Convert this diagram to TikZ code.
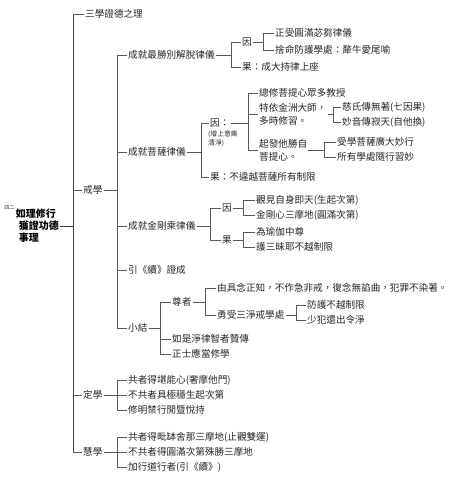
\documentclass[tikz,border=0pt]{standalone}
\usepackage{fontspec}
\newfontfamily\cjk{Noto Sans CJK TC}
\usetikzlibrary{positioning}

\begin{document}
\begin{tikzpicture}[
    x=1pt, y=-1pt,
    item/.style  = {anchor=west, inner sep=1pt, text=black!85,
                    font=\cjk\fontsize{9.6}{13}\selectfont},
    note/.style  = {anchor=west, inner sep=1pt, text=black!85, align=left,
                    font=\cjk\fontsize{6.8}{9}\selectfont},
    rootbox/.style = {anchor=east, inner sep=1pt, align=left,
                    font=\cjk\bfseries\fontsize{10}{12}\selectfont},
    br/.style    = {draw=black!65, line width=0.7pt},
    trunk/.style = {draw=black!75, line width=1pt},
]
\useasboundingbox (0,0) rectangle (459,480);

% --- root ---
\node[rootbox] (root) at (60,226) {如理修行\\\hspace{3pt}獲證功德\\\hspace{3pt}事理};
\node[note, anchor=south east, font=\cjk\fontsize{5}{6}\selectfont]
    (num) at ([xshift=1pt,yshift=-3pt]root.north west) {四二};

% --- three trainings ---
\coordinate (xa) at (73,0);
\node[item] (san)  at (84,14)  {三學證德之理};
\node[item] (jie)  at (82,190) {戒學};
\node[item] (ding) at (82,395) {定學};
\node[item] (hui)  at (82,452) {慧學};

% --- 戒學 ---
\coordinate (xb) at (117,0);
\node[item] (jie1) at (127,55)  {成就最勝別解脫律儀};
\node[item] (jie2) at (127,152) {成就菩薩律儀};
\node[item] (jie3) at (127,226) {成就金剛乘律儀};
\node[item] (jie4) at (127,270) {引《續》證成};
\node[item] (jie5) at (127,328) {小結};

% 別解脫律儀
\coordinate (xc) at (231,0);
\node[item] (yin1) at (241,42) {因};
\node[item] (guo1) at (241,67) {果：成大持律上座};
\coordinate (xd) at (263,0);
\node[item] (a1) at (274,33) {正受圓滿苾芻律儀};
\node[item] (a2) at (274,50) {捨命防護學處：犛牛愛尾喻};

% 菩薩律儀
\coordinate (xe) at (201,0);
\node[item] (yin2) at (209,123) {因：};
\node[note] (yin2n) at (207,139) {(增上意樂\\清淨)};
\node[item] (guo2) at (209,177) {果：不違越菩薩所有制限};
\coordinate (xf) at (248,0);
\node[item] (b1) at (258,93) {總修菩提心眾多教授};
\node[item, align=left] (b2) at (258,114) {特依金洲大師，\\多時修習。};
\node[item, align=left] (b3) at (258,150) {起發他勝自\\菩提心。};
\coordinate (xg) at (333,0);
\node[item] (c1) at (341,107) {慈氏傳無著(七因果)};
\node[item] (c2) at (341,122) {妙音傳寂天(自他換)};
\coordinate (xh) at (324,0);
\node[item] (d1) at (336,142) {受學菩薩廣大妙行};
\node[item] (d2) at (336,157) {所有學處隨行習妙};

% 金剛乘律儀
\coordinate (xi) at (210,0);
\node[item] (yin3) at (221,208) {因};
\node[item] (guo3) at (221,240) {果};
\coordinate (xj) at (243,0);
\node[item] (e1) at (255,200) {觀見自身即天(生起次第)};
\node[item] (e2) at (255,215) {金剛心三摩地(圓滿次第)};
\node[item] (f1) at (255,232) {為瑜伽中尊};
\node[item] (f2) at (255,247) {護三昧耶不越制限};

% 小結
\coordinate (xk) at (160,0);
\node[item] (zun) at (171,302) {尊者};
\node[item] (g2)  at (171,339) {如是淨律智者贊傳};
\node[item] (g3)  at (171,354) {正士應當修學};
\coordinate (xl) at (205,0);
\node[item] (h1) at (216,288) {由具念正知，不作急非戒，復念無諂曲，犯罪不染著。};
\node[item] (h2) at (216,315) {勇受三淨戒學處};
\coordinate (xm) at (296,0);
\node[item] (i1) at (306,305) {防護不越制限};
\node[item] (i2) at (306,320) {少犯還出令淨};

% --- 定學 ---
\node[item] (j1) at (127,380) {共者得堪能心(奢摩他門)};
\node[item] (j2) at (127,395) {不共者具極穩生起次第};
\node[item] (j3) at (127,410) {修明禁行閒暨悅持};

% --- 慧學 ---
\node[item] (m1) at (127,437) {共者得毗缽舍那三摩地(止觀雙運)};
\node[item] (m2) at (127,452) {不共者得圓滿次第殊勝三摩地};
\node[item] (m3) at (127,467) {加行道行者(引《續》)};

% --- brackets ---
\draw[trunk] (xa |- san.west) -- (xa |- hui.west);
\draw[trunk] (root.east) -- (root.east -| xa);
\foreach \n in {san,jie,ding,hui} \draw[br] (xa |- \n.west) -- (\n.west);

\draw[br] (jie.east) -- (jie.east -| xb);
\draw[br] (xb |- jie1.west) -- (xb |- jie5.west);
\foreach \n in {jie1,jie2,jie3,jie4,jie5} \draw[br] (xb |- \n.west) -- (\n.west);

\draw[br] (jie1.east) -- (jie1.east -| xc);
\draw[br] (xc |- yin1.west) -- (xc |- guo1.west);
\foreach \n in {yin1,guo1} \draw[br] (xc |- \n.west) -- (\n.west);
\draw[br] (yin1.east) -- (yin1.east -| xd);
\draw[br] (xd |- a1.west) -- (xd |- a2.west);
\foreach \n in {a1,a2} \draw[br] (xd |- \n.west) -- (\n.west);

\draw[br] (jie2.east) -- (jie2.east -| xe);
\draw[br] (xe |- yin2.west) -- (xe |- guo2.west);
\foreach \n in {yin2,guo2} \draw[br] (xe |- \n.west) -- (\n.west);
\draw[br] (yin2.east) -- (yin2.east -| xf);
\draw[br] (xf |- b1.west) -- (xf |- b3.west);
\foreach \n in {b1,b2,b3} \draw[br] (xf |- \n.west) -- (\n.west);
\draw[br] (b2.east) -- (b2.east -| xg);
\draw[br] (xg |- c1.west) -- (xg |- c2.west);
\foreach \n in {c1,c2} \draw[br] (xg |- \n.west) -- (\n.west);
\draw[br] (b3.east) -- (b3.east -| xh);
\draw[br] (xh |- d1.west) -- (xh |- d2.west);
\foreach \n in {d1,d2} \draw[br] (xh |- \n.west) -- (\n.west);

\draw[br] (jie3.east) -- (jie3.east -| xi);
\draw[br] (xi |- yin3.west) -- (xi |- guo3.west);
\foreach \n in {yin3,guo3} \draw[br] (xi |- \n.west) -- (\n.west);
\draw[br] (yin3.east) -- (yin3.east -| xj);
\draw[br] (xj |- e1.west) -- (xj |- e2.west);
\foreach \n in {e1,e2} \draw[br] (xj |- \n.west) -- (\n.west);
\draw[br] (guo3.east) -- (guo3.east -| xj);
\draw[br] (xj |- f1.west) -- (xj |- f2.west);
\foreach \n in {f1,f2} \draw[br] (xj |- \n.west) -- (\n.west);

\draw[br] (jie5.east) -- (jie5.east -| xk);
\draw[br] (xk |- zun.west) -- (xk |- g3.west);
\foreach \n in {zun,g2,g3} \draw[br] (xk |- \n.west) -- (\n.west);
\draw[br] (zun.east) -- (zun.east -| xl);
\draw[br] (xl |- h1.west) -- (xl |- h2.west);
\foreach \n in {h1,h2} \draw[br] (xl |- \n.west) -- (\n.west);
\draw[br] (h2.east) -- (h2.east -| xm);
\draw[br] (xm |- i1.west) -- (xm |- i2.west);
\foreach \n in {i1,i2} \draw[br] (xm |- \n.west) -- (\n.west);

\draw[br] (ding.east) -- (ding.east -| xb);
\draw[br] (xb |- j1.west) -- (xb |- j3.west);
\foreach \n in {j1,j2,j3} \draw[br] (xb |- \n.west) -- (\n.west);

\draw[br] (hui.east) -- (hui.east -| xb);
\draw[br] (xb |- m1.west) -- (xb |- m3.west);
\foreach \n in {m1,m2,m3} \draw[br] (xb |- \n.west) -- (\n.west);

\end{tikzpicture}
\end{document}
